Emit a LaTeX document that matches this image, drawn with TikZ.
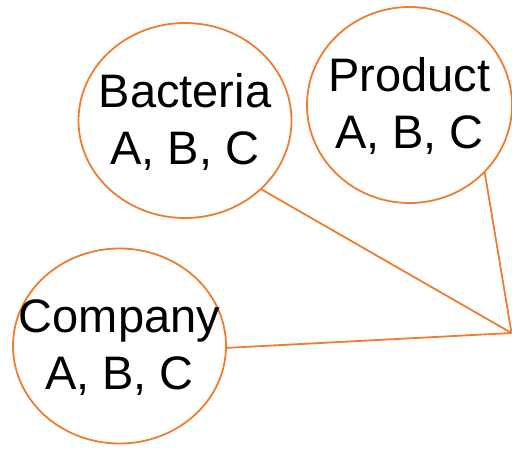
\documentclass[tikz,border=0pt]{standalone}
\usepackage{fontspec}
\setmainfont{Liberation Sans}
\usetikzlibrary{shapes.geometric}
\definecolor{borange}{HTML}{ED7D31}
\begin{document}
\begin{tikzpicture}[x=1pt,y=-1pt,
  bubble/.style={ellipse,draw=borange,line width=1.8pt,inner sep=0pt,
    minimum width=213pt,minimum height=195pt},
  txt/.style={align=center,inner sep=0pt,font=\fontsize{47}{57}\selectfont},
  link/.style={draw=borange,line width=1.8pt}]
\useasboundingbox (0,0) rectangle (512,448);
\node[bubble] (bacteria) at (185,120.5) {};
\node[bubble,minimum width=205pt,minimum height=196pt] (product) at (409.5,105) {};
\node[bubble] (company) at (119.5,346) {};
\node[txt] (bacteriatext) at ([yshift=-1pt]bacteria.center) {Bacteria\\A, B, C};
\node[txt] (producttext) at ([yshift=-1pt]product.center) {Product\\A, B, C};
\node[txt] (companytext) at ([yshift=-2pt]company.center) {Company\\A, B, C};
\coordinate (hub) at (511.5,333);
\draw[link] (bacteria.-42.5) -- (hub);
\draw[link] (product.-42) -- (hub);
\draw[link] (company.-1) -- (hub);
\end{tikzpicture}
\end{document}
